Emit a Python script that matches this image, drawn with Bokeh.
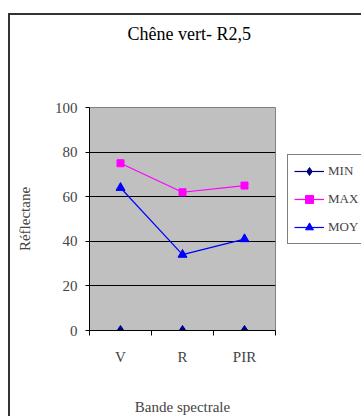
from bokeh.plotting import figure
from bokeh.models import Range1d, FixedTicker, Legend, LegendItem, Title
from bokeh.layouts import column
from bokeh.embed import file_html
from bokeh.resources import INLINE

categories = ["V", "R", "PIR"]
min_vals = [0, 0, 0]
max_vals = [75, 62, 65]
moy_vals = [64, 34, 41]
y_ticks = [0, 20, 40, 60, 80, 100]

FONT = "Liberation Serif"

xs = [i + 0.5 for i in range(len(categories))]

p = figure(frame_width=186, frame_height=223, output_backend="svg", toolbar_location=None,
           x_range=Range1d(0, len(categories)), y_range=Range1d(0, 100),
           min_border_left=79, min_border_top=92, min_border_right=86, min_border_bottom=86)

p.background_fill_color = "#C0C0C0"
p.border_fill_color = "white"
p.outline_line_color = "#808080"

p.title = Title(text="Chêne vert- R2,5", align="left", text_font=FONT,
                text_font_size="18px", text_font_style="normal", text_color="black",
                offset=38, standoff=10)
# empty spacer between the title and the plot area
p.add_layout(Title(text=" ", text_font_size="1px", standoff=56), "above")

# grid
p.xgrid.visible = False
p.ygrid.ticker = FixedTicker(ticks=y_ticks[:-1])
p.ygrid.grid_line_color = "black"
p.ygrid.grid_line_width = 1

# y axis
p.yaxis.ticker = FixedTicker(ticks=y_ticks)
p.yaxis.axis_label = "Réflectane"
p.yaxis.axis_label_text_font = FONT
p.yaxis.axis_label_text_font_style = "normal"
p.yaxis.axis_label_text_font_size = "15px"
p.yaxis.axis_label_standoff = 19
p.yaxis.major_label_text_font = FONT
p.yaxis.major_label_text_font_size = "15px"
p.yaxis.major_label_standoff = 8
p.yaxis.major_tick_out = 4
p.yaxis.major_tick_in = 0
p.yaxis.minor_tick_line_color = None
p.yaxis.axis_line_color = "black"
p.yaxis.major_tick_line_color = "black"

# x axis
p.xaxis.ticker = FixedTicker(ticks=xs, minor_ticks=list(range(len(categories) + 1)))
p.xaxis.major_label_overrides = {x: c for x, c in zip(xs, categories)}
p.xaxis.axis_label = "Bande spectrale"
p.xaxis.axis_label_text_font = FONT
p.xaxis.axis_label_text_font_style = "normal"
p.xaxis.axis_label_text_font_size = "15px"
p.xaxis.axis_label_standoff = 31
p.xaxis.major_label_text_font = FONT
p.xaxis.major_label_text_font_size = "15px"
p.xaxis.major_label_standoff = 13
p.xaxis.major_tick_line_color = None
p.xaxis.major_tick_out = 0
p.xaxis.major_tick_in = 0
p.xaxis.minor_tick_out = 5
p.xaxis.minor_tick_in = 0
p.xaxis.minor_tick_line_color = "black"
p.xaxis.axis_line_color = "black"

# series
l1 = p.line(xs, min_vals, line_color="#000080", line_width=1.2)
s1 = p.scatter(xs, min_vals, marker="diamond", size=10, fill_color="#000080", line_color="#000080")
l2 = p.line(xs, max_vals, line_color="#FF00FF", line_width=1.2)
s2 = p.scatter(xs, max_vals, marker="square", size=7, fill_color="#FF00FF", line_color="#FF00FF")
l3 = p.line(xs, moy_vals, line_color="#0000FF", line_width=1.2)
s3 = p.scatter(xs, moy_vals, marker="triangle", size=9, fill_color="#0000FF", line_color="#0000FF")

legend = Legend(items=[
    LegendItem(label="MIN", renderers=[l1, s1]),
    LegendItem(label="MAX", renderers=[l2, s2]),
    LegendItem(label="MOY", renderers=[l3, s3]),
], location=(12, 86))
legend.border_line_color = "black"
legend.border_line_width = 1
legend.background_fill_color = "white"
legend.background_fill_alpha = 1
legend.padding = 6
legend.spacing = 8
legend.margin = 0
legend.glyph_width = 30
legend.glyph_height = 20
legend.label_height = 20
legend.label_standoff = 4
legend.label_text_font = FONT
legend.label_text_font_size = "13px"
p.add_layout(legend, "right")

layout = column(p, styles={"border-left": "2px solid #333333", "border-top": "2px solid #333333",
                           "margin-top": "13px", "margin-left": "8px"})

open("out.html", "w").write(file_html(layout, INLINE))
